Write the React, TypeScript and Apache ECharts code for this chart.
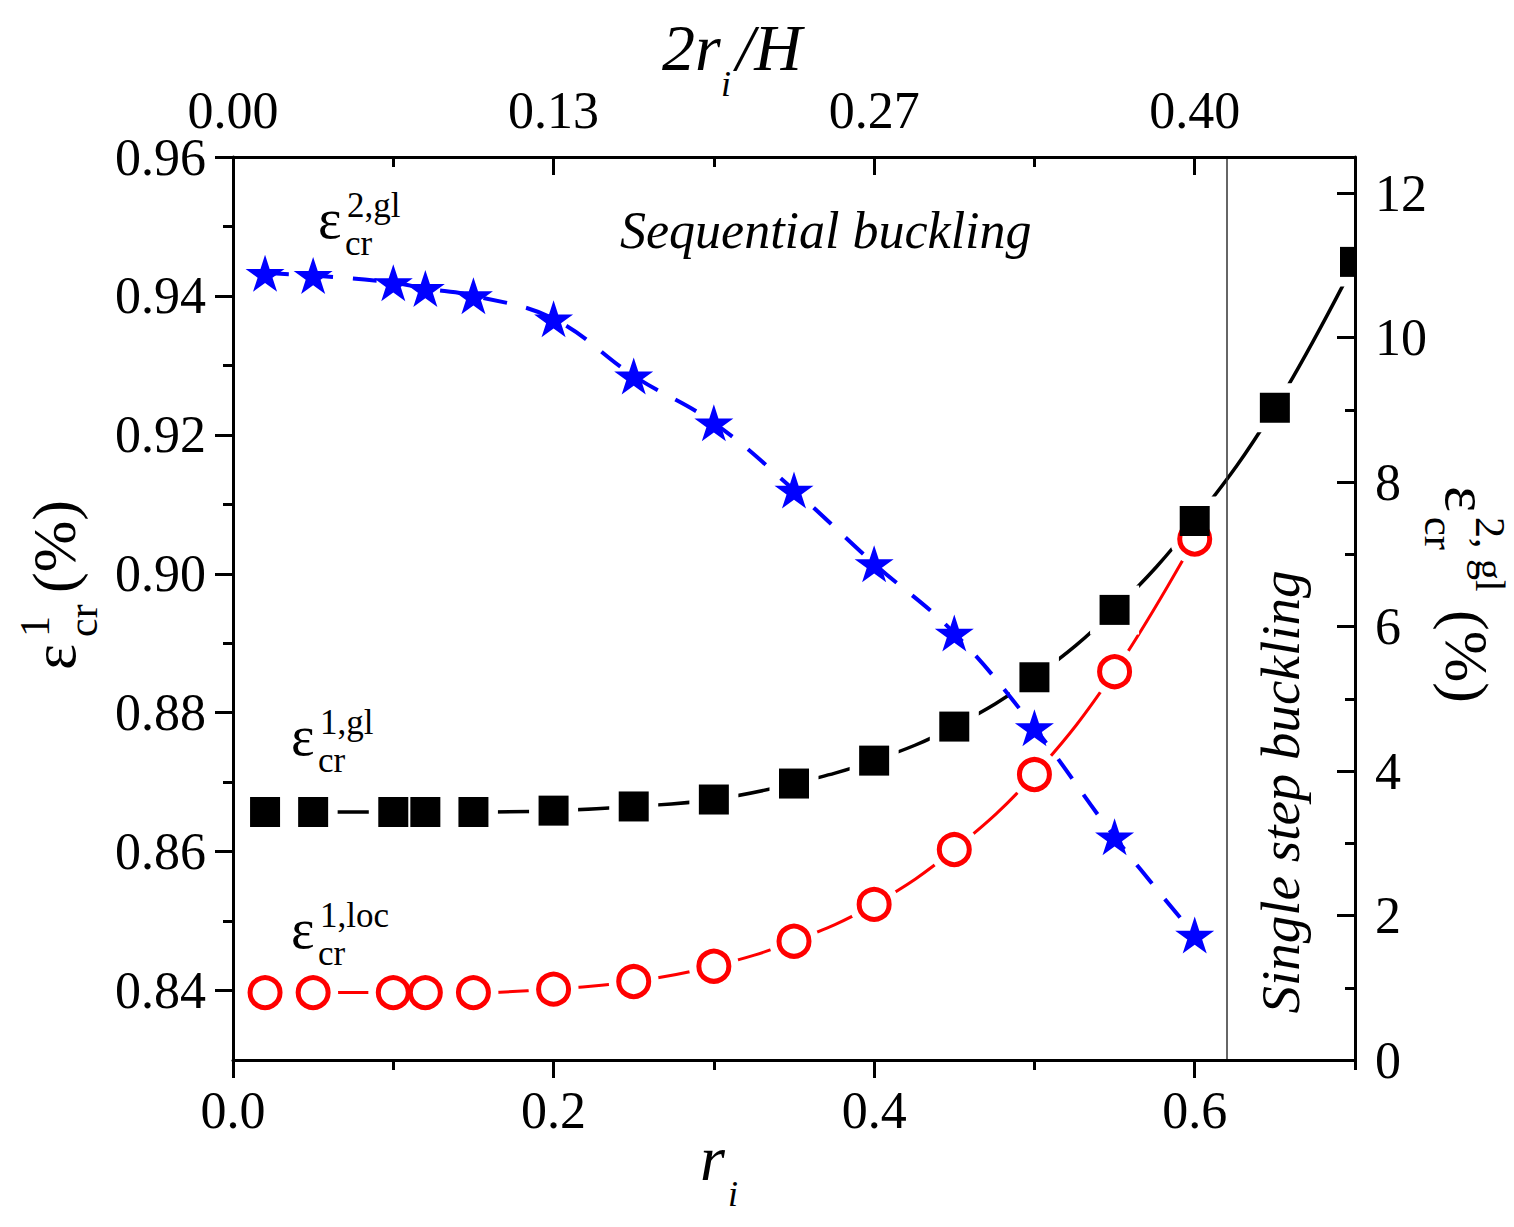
import * as echarts from 'echarts';
import { useEffect, useRef } from 'react';

// r_i positions of the computed points
const rPoints = [0.02, 0.05, 0.1, 0.12, 0.15, 0.2, 0.25, 0.3, 0.35, 0.4, 0.45, 0.5, 0.55, 0.6];
const rGlobal = [...rPoints, 0.65, 0.7];

// eps_cr^{1,gl} (%), left axis
const eps1Global = [
  0.8657, 0.8657, 0.8657, 0.8657, 0.8657, 0.8659, 0.8665, 0.8675, 0.8698, 0.8731, 0.878, 0.8851,
  0.8948, 0.9076, 0.9239, 0.9449
];
// eps_cr^{1,loc} (%), left axis
const eps1Local = [
  0.8397, 0.8397, 0.8397, 0.8397, 0.8397, 0.8402, 0.8413, 0.8435, 0.8471, 0.8524, 0.8603, 0.8711,
  0.8859, 0.905
];
// eps_cr^{2,gl} (%), right axis
const eps2Global = [10.89, 10.86, 10.76, 10.68, 10.58, 10.26, 9.47, 8.82, 7.89, 6.87, 5.91, 4.6, 3.09, 1.73];

// ticks
const xMajorTicks = [0, 0.2, 0.4, 0.6];
const xMinorTicks = [0.1, 0.3, 0.5, 0.7];
const leftMajorTicks = [0.84, 0.86, 0.88, 0.9, 0.92, 0.94, 0.96];
const leftMinorTicks = [0.85, 0.87, 0.89, 0.91, 0.93, 0.95];
const rightMajorTicks = [0, 2, 4, 6, 8, 10, 12];
const rightMinorTicks = [1, 3, 5, 7, 9, 11];

const transitionR = 0.618;

const SERIF = '"Liberation Serif", "Times New Roman", serif';
const STAR =
  'path://M0,-10L2.245,-3.09L9.511,-3.09L3.633,1.18L5.878,8.09L0,3.82L-5.878,8.09L-3.633,1.18L-9.511,-3.09L-2.245,-3.09Z';

const W = 1514;
const H = 1227;
const GRID = { left: 233, top: 157, right: 159, bottom: 167 };
const TICK_FONT = 52;

// text placed by its alphabetic baseline
function txt(x: number, base: number, text: string, size: number, italic = false) {
  return {
    type: 'text',
    x,
    y: base - 0.34 * size,
    z: 20,
    style: {
      text,
      fontSize: size,
      fontFamily: SERIF,
      fontStyle: italic ? 'italic' : 'normal',
      fill: '#000',
      align: 'left',
      verticalAlign: 'middle'
    }
  };
}

function epsLabel(x: number, base: number, sup: string) {
  return [txt(x, base, 'ε', 56), txt(x + 29, base - 21, sup, 35), txt(x + 27, base + 17, 'cr', 35)];
}

function xAxisOf(position: 'top' | 'bottom', ticks: number[], major: boolean) {
  return {
    type: 'value',
    position,
    min: 0,
    max: 0.7,
    z: 10,
    axisLine: { show: major, onZero: false, lineStyle: { color: '#000', width: 3 } },
    axisTick: {
      show: true,
      inside: position === 'top',
      length: major ? 18 : 10,
      customValues: ticks,
      lineStyle: { color: '#000', width: 3 }
    },
    axisLabel: {
      show: major,
      customValues: ticks,
      margin: position === 'top' ? 21 : 24,
      fontSize: TICK_FONT,
      fontFamily: SERIF,
      color: '#000',
      formatter: (v: number) => (position === 'top' ? ((v * 2) / 3).toFixed(2) : v.toFixed(1))
    },
    splitLine: { show: false }
  };
}

function yAxisOf(position: 'left' | 'right', ticks: number[], major: boolean) {
  const left = position === 'left';
  return {
    type: 'value',
    position,
    min: left ? 0.83 : 0,
    max: left ? 0.96 : 12.5,
    z: 10,
    axisLine: { show: major, onZero: false, lineStyle: { color: '#000', width: 3 } },
    axisTick: {
      show: true,
      inside: !left,
      length: major ? 18 : 10,
      customValues: ticks,
      lineStyle: { color: '#000', width: 3 }
    },
    axisLabel: {
      show: major,
      customValues: ticks,
      margin: left ? 27 : 20,
      fontSize: TICK_FONT,
      fontFamily: SERIF,
      color: '#000',
      formatter: (v: number) => (left ? v.toFixed(2) : String(Math.round(v)))
    },
    splitLine: { show: false }
  };
}

export default function App() {
  const elRef = useRef<HTMLDivElement | null>(null);

  useEffect(() => {
    if (!elRef.current) return;
    const chart = echarts.init(elRef.current, undefined, { renderer: 'svg' });

    const localData = rPoints.map((r, i) => [r, eps1Local[i]]);
    const globalData = rGlobal.map((r, i) => [r, eps1Global[i]]);
    const secondData = rPoints.map((r, i) => [r, eps2Global[i]]);

    const graphic: any[] = [
      // axis titles
      txt(662, 70, '2r', 66, true),
      txt(721, 96, 'i', 36, true),
      txt(736, 70, '/H', 66, true),
      txt(700, 1180, 'r', 64, true),
      txt(728, 1206, 'i', 36, true),
      {
        type: 'group',
        x: 75,
        y: 670,
        rotation: Math.PI / 2,
        children: [txt(0, 0, 'ε', 62), txt(33, 22, 'cr', 42), txt(33, -26, '1', 42), txt(77, 0, '(%)', 62)]
      },
      {
        type: 'group',
        x: 1446,
        y: 486,
        rotation: -Math.PI / 2,
        children: [txt(0, 0, 'ε', 62), txt(31, 21, 'cr', 42), txt(31, -30, '2, gl', 42), txt(124, 0, '(%)', 62)]
      },
      // annotations
      txt(620, 248, 'Sequential buckling', 52, true),
      {
        type: 'text',
        x: 1280,
        y: 792,
        rotation: Math.PI / 2,
        z: 20,
        style: {
          text: 'Single step buckling',
          fontSize: 55,
          fontFamily: SERIF,
          fontStyle: 'italic',
          fill: '#000',
          align: 'center',
          verticalAlign: 'middle'
        }
      },
      ...epsLabel(318, 238, '2,gl'),
      ...epsLabel(291, 755, '1,gl'),
      ...epsLabel(291, 948, '1,loc'),
      // hide the part of the last marker that lies outside the frame
      {
        type: 'rect',
        z: 9,
        shape: { x: W - GRID.right + 2, y: 225, width: 30, height: 80 },
        style: { fill: '#fff' }
      }
    ];

    chart.setOption({
      animation: false,
      backgroundColor: '#fff',
      grid: { ...GRID, containLabel: false, outerBoundsMode: 'none' },
      xAxis: [
        xAxisOf('bottom', xMajorTicks, true),
        xAxisOf('bottom', xMinorTicks, false),
        xAxisOf('top', xMajorTicks, true),
        xAxisOf('top', xMinorTicks, false)
      ],
      yAxis: [
        yAxisOf('left', leftMajorTicks, true),
        yAxisOf('left', leftMinorTicks, false),
        yAxisOf('right', rightMajorTicks, true),
        yAxisOf('right', rightMinorTicks, false)
      ],
      graphic,
      series: [
        {
          type: 'line',
          data: localData,
          smooth: 0.4,
          showSymbol: false,
          z: 2,
          lineStyle: { color: '#ff0000', width: 3 }
        },
        {
          type: 'line',
          data: globalData,
          smooth: 0.4,
          showSymbol: false,
          z: 2,
          lineStyle: { color: '#000', width: 3.5 }
        },
        // white halos: the gaps of the line around each marker
        {
          type: 'scatter',
          data: localData,
          symbol: 'circle',
          symbolSize: 50,
          silent: true,
          z: 3,
          itemStyle: { color: '#fff', opacity: 1 }
        },
        {
          type: 'scatter',
          data: globalData,
          symbol: 'rect',
          symbolSize: 49,
          silent: true,
          z: 3,
          itemStyle: { color: '#fff', opacity: 1 }
        },
        {
          type: 'scatter',
          data: localData,
          symbol: 'circle',
          symbolSize: 30,
          z: 4,
          itemStyle: { color: '#fff', borderColor: '#ff0000', borderWidth: 5, opacity: 1 }
        },
        {
          type: 'scatter',
          data: globalData,
          symbol: 'rect',
          symbolSize: 30,
          z: 5,
          itemStyle: { color: '#000', opacity: 1 },
          markLine: {
            silent: true,
            symbol: ['none', 'none'],
            label: { show: false },
            lineStyle: { color: '#333', width: 1.5, type: 'solid', opacity: 1 },
            data: [{ xAxis: transitionR }]
          }
        },
        {
          type: 'line',
          yAxisIndex: 2,
          data: secondData,
          smooth: 0.4,
          showSymbol: false,
          z: 6,
          lineStyle: { color: '#0000ff', width: 4, type: [24, 20] }
        },
        {
          type: 'scatter',
          yAxisIndex: 2,
          data: secondData,
          symbol: STAR,
          symbolSize: [39, 37],
          z: 7,
          itemStyle: { color: '#0000ff', opacity: 1 }
        }
      ]
    } as any);

    return () => chart.dispose();
  }, []);

  return <div ref={elRef} style={{ position: 'fixed', left: 0, top: 0, width: W, height: H }} />;
}
